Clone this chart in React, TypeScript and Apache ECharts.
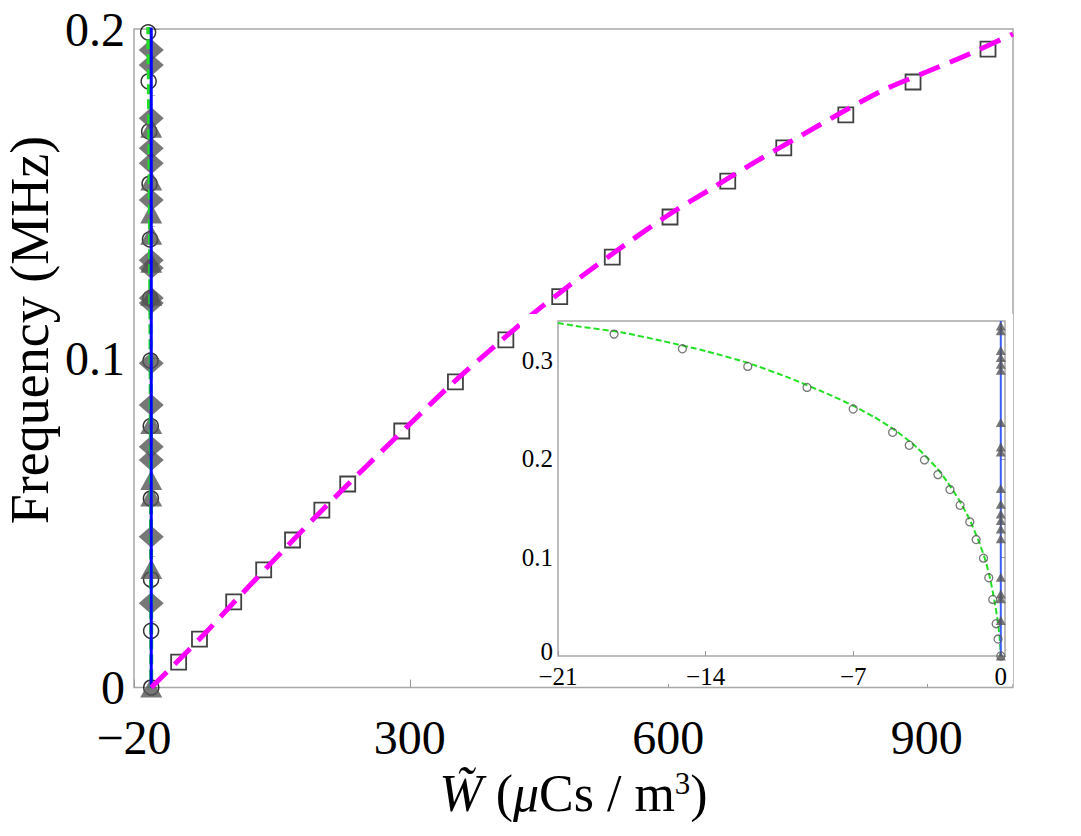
import React, { useEffect, useRef } from "react";
import * as echarts from "echarts";

// ---------- data ----------
const mainXTicks = [-20, 300, 600, 900];
const insetXTicks = [-21, -14, -7, 0];
const insetYTicks = [0, 0.1, 0.2, 0.3];

// open squares (main chart)
const squareW = [31.8, 56, 95.7, 130.5, 164, 198, 228, 290.7, 353, 411.5, 474, 535, 602, 669, 734, 806, 884, 971];
const squareF = [0.0077, 0.0147, 0.026, 0.0357, 0.0448, 0.0539, 0.0618, 0.0779, 0.0928, 0.1056, 0.1187, 0.1307, 0.1429, 0.1538, 0.1639, 0.1739, 0.1839, 0.1939];

// magenta dashed curve (main chart)
const magentaW = [0, 30, 60, 100, 150, 200, 250, 300, 350, 400, 450, 500, 550, 600, 650, 700, 750, 800, 850, 900, 950, 1000];
const magentaF = [0, 0.0078, 0.0158, 0.027, 0.0408, 0.0543, 0.0673, 0.08, 0.0925, 0.104, 0.115, 0.125, 0.1345, 0.1435, 0.1515, 0.1595, 0.167, 0.1745, 0.1815, 0.187, 0.1925, 0.1985];

// green dashed curve (negative W branch)
const greenW = [-21, -20, -18, -16, -14, -12, -10, -8, -7, -6, -5, -4, -3, -2.5, -2, -1.5, -1, -0.7, -0.5, -0.3, -0.15, -0.05, 0];
const greenF = [0.338, 0.3345, 0.3285, 0.3195, 0.3095, 0.2975, 0.282, 0.264, 0.254, 0.2425, 0.229, 0.212, 0.19, 0.1755, 0.159, 0.1395, 0.114, 0.095, 0.078, 0.056, 0.036, 0.018, 0];

// open circles
const circleW = [-18.34, -15.1, -12.0, -9.19, -7.0, -5.13, -4.34, -3.62, -2.98, -2.41, -1.93, -1.47, -1.17, -0.82, -0.57, -0.38, -0.22, -0.13, 0];
const circleF = [0.3267, 0.3118, 0.2939, 0.2726, 0.2507, 0.227, 0.2139, 0.199, 0.1841, 0.1689, 0.153, 0.1361, 0.1182, 0.0993, 0.0794, 0.0574, 0.0328, 0.0172, 0];

// blue solid vertical line at W = 0
const blueW = [0, 0];
const blueF = [0, 0.34];

// grey triangles at W = 0
const triangleF = [0.335, 0.33, 0.31, 0.303, 0.296, 0.29, 0.237, 0.212, 0.207, 0.17, 0.154, 0.144, 0.1375, 0.129, 0.119, 0.08, 0.063, 0.058, 0.036, 0];

// grey diamonds at W = 0 (main chart)
const diamondF = [0.1936, 0.1891, 0.1729, 0.1638, 0.1592, 0.1481, 0.1298, 0.1274, 0.1183, 0.1168, 0.0985, 0.0858, 0.0731, 0.0691, 0.0458, 0.0256];

// ---------- helpers ----------
const zip = (xs: number[], ys: number[]) => xs.map((x, i) => [x, ys[i]]);
const atZero = (ys: number[]) => ys.map((y) => [0, y]);
const minusFmt = (v: number) => (v < 0 ? "\u2212" + Math.abs(v) : String(v));

const FONT = "Liberation Serif";
const GREY = "#a8a8a8";
const MARK = "#555555";

export default function App() {
  const ref = useRef<HTMLDivElement>(null);

  useEffect(() => {
    if (!ref.current) return;
    const chart = echarts.init(ref.current, null, { renderer: "svg" });

    const option: any = {
      animation: false,
      backgroundColor: "#ffffff",
      grid: [
        {
          left: 134, top: 29, width: 879, height: 658.5,
          show: true, borderColor: GREY, borderWidth: 1.5,
          containLabel: false, outerBoundsMode: "none",
        },
        {
          left: 558, top: 321, width: 447, height: 335,
          show: true, borderColor: GREY, borderWidth: 1.5, backgroundColor: "#ffffff",
          containLabel: false, outerBoundsMode: "none", z: 6,
        },
      ],
      xAxis: [
        {
          type: "value", gridIndex: 0, min: -20, max: 1000,
          axisLine: { show: false },
          splitLine: { show: false },
          axisTick: { inside: true, length: 8, lineStyle: { color: "#999" }, customValues: mainXTicks },
          axisLabel: {
            customValues: mainXTicks, formatter: minusFmt,
            fontFamily: FONT, fontSize: 48, color: "#000", margin: 26,
          },
          name: "{w|W\u0303} ({mu|\u03bc}Cs / m{sup|3})",
          nameLocation: "middle",
          nameGap: 80,
          nameTextStyle: {
            fontFamily: FONT, fontSize: 52, color: "#000",
            rich: {
              w: { fontFamily: FONT, fontSize: 52, fontStyle: "italic", color: "#000" },
              mu: { fontFamily: FONT, fontSize: 52, fontStyle: "italic", color: "#000" },
              sup: { fontFamily: FONT, fontSize: 31, color: "#000", verticalAlign: "top" },
            },
          },
        },
        {
          type: "value", gridIndex: 1, min: -21, max: 0.2, z: 7,
          axisLine: { show: false },
          splitLine: { show: false },
          axisTick: { inside: true, length: 5, lineStyle: { color: "#999" }, customValues: insetXTicks },
          axisLabel: {
            customValues: insetXTicks, formatter: minusFmt,
            fontFamily: FONT, fontSize: 25, lineHeight: 25, color: "#000", margin: 8,
          },
        },
      ],
      yAxis: [
        {
          type: "value", gridIndex: 0, min: 0, max: 0.2, interval: 0.1,
          axisLine: { show: false },
          splitLine: { show: false },
          axisTick: { inside: true, length: 8, lineStyle: { color: "#999" } },
          minorTick: { show: true, splitNumber: 5, length: 4, lineStyle: { color: "#c0c0c0" } },
          axisLabel: { fontFamily: FONT, fontSize: 48, color: "#000", margin: 9 },
        },
        {
          type: "value", gridIndex: 1, min: 0, max: 0.34, z: 7,
          axisLine: { show: false },
          splitLine: { show: false },
          axisTick: { inside: true, length: 5, lineStyle: { color: "#999" }, customValues: insetYTicks },
          axisLabel: {
            customValues: insetYTicks,
            formatter: (v: number) => (v === 0 ? "{z|0}" : String(v)),
            fontFamily: FONT, fontSize: 25, color: "#000", margin: 5,
            rich: { z: { fontFamily: FONT, fontSize: 25, color: "#000", padding: [0, 0, 10, 0] } },
          },
        },
      ],
      graphic: [
        {
          type: "rect", z: 5,
          shape: { x: 520, y: 314, width: 493, height: 370 },
          style: { fill: "#ffffff" },
        },
        {
          type: "text", z: 5,
          x: 30, y: 330, rotation: Math.PI / 2,
          style: {
            text: "Frequency (MHz)", fill: "#000",
            font: '54px "Liberation Serif"',
            textAlign: "center", textVerticalAlign: "middle",
            align: "center", verticalAlign: "middle",
          },
        },
      ],
      series: [
        // ----- main chart -----
        {
          type: "line", xAxisIndex: 0, yAxisIndex: 0, data: zip(greenW, greenF),
          symbol: "none", lineStyle: { color: "#22e022", width: 4, type: [10, 5] },
        },
        {
          type: "line", xAxisIndex: 0, yAxisIndex: 0, data: zip(blueW, blueF),
          symbol: "none", lineStyle: { color: "#0000ff", width: 3 },
        },
        {
          type: "scatter", xAxisIndex: 0, yAxisIndex: 0, data: zip(circleW, circleF),
          symbol: "circle", symbolSize: 15,
          itemStyle: { color: "rgba(0,0,0,0)", borderColor: "#000", borderWidth: 1.5 },
        },
        {
          type: "scatter", xAxisIndex: 0, yAxisIndex: 0, data: atZero(triangleF),
          symbol: "triangle", symbolSize: [22, 20], itemStyle: { color: MARK },
        },
        {
          type: "scatter", xAxisIndex: 0, yAxisIndex: 0, data: atZero(diamondF),
          symbol: "diamond", symbolSize: [25, 22], itemStyle: { color: MARK },
        },
        {
          type: "line", xAxisIndex: 0, yAxisIndex: 0, data: zip(magentaW, magentaF),
          symbol: "none", smooth: 0.3,
          lineStyle: { color: "#ff00ff", width: 5, type: [22, 11] },
        },
        {
          type: "scatter", xAxisIndex: 0, yAxisIndex: 0, data: zip(squareW, squareF),
          symbol: "rect", symbolSize: 15,
          itemStyle: { color: "rgba(0,0,0,0)", borderColor: "#111", borderWidth: 1.8 },
        },
        // ----- inset -----
        {
          type: "line", xAxisIndex: 1, yAxisIndex: 1, z: 10, data: zip(greenW, greenF),
          symbol: "none", smooth: 0.2, lineStyle: { color: "#22e022", width: 2, type: [6, 3] },
        },
        {
          type: "line", xAxisIndex: 1, yAxisIndex: 1, z: 10, data: zip(blueW, blueF),
          symbol: "none", lineStyle: { color: "#3a5cff", width: 2 },
        },
        {
          type: "scatter", xAxisIndex: 1, yAxisIndex: 1, z: 11, data: zip(circleW, circleF),
          symbol: "circle", symbolSize: 8,
          itemStyle: { color: "rgba(0,0,0,0)", borderColor: MARK, borderWidth: 1.3 },
        },
        {
          type: "scatter", xAxisIndex: 1, yAxisIndex: 1, z: 11, data: atZero(triangleF),
          symbol: "triangle", symbolSize: [10, 9], itemStyle: { color: MARK },
        },
      ],
    };

    chart.setOption(option);
    return () => chart.dispose();
  }, []);

  return <div ref={ref} style={{ width: 1081, height: 836, margin: -8 }} />;
}
